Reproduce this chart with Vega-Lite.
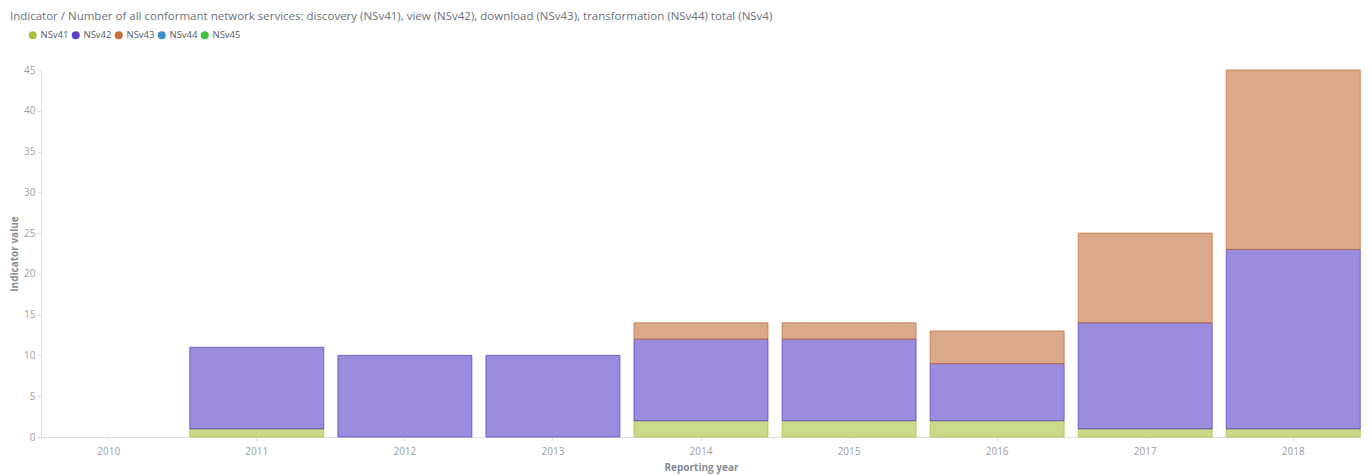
{
  "$schema": "https://vega.github.io/schema/vega-lite/v6.json",
  "width": 1320,
  "height": 367,
  "autosize": {"type": "none"},
  "padding": {"left": 41, "top": 70, "right": 9, "bottom": 38},
  "background": "white",
  "title": {
    "text": "Indicator / Number of all conformant network services: discovery (NSv41), view (NSv42), download (NSv43), transformation (NSv44) total (NSv4)",
    "anchor": "start",
    "frame": "group",
    "dx": -31,
    "dy": 14,
    "offset": 11,
    "font": "Open Sans",
    "fontSize": 11.5,
    "fontWeight": "normal",
    "color": "#6a717a",
    "baseline": "bottom"
  },
  "data": {
    "values": [
      {"year": "2011", "series": "NSv41", "value": 1},
      {"year": "2011", "series": "NSv42", "value": 10},
      {"year": "2012", "series": "NSv42", "value": 10},
      {"year": "2013", "series": "NSv42", "value": 10},
      {"year": "2014", "series": "NSv41", "value": 2},
      {"year": "2014", "series": "NSv42", "value": 10},
      {"year": "2014", "series": "NSv43", "value": 2},
      {"year": "2015", "series": "NSv41", "value": 2},
      {"year": "2015", "series": "NSv42", "value": 10},
      {"year": "2015", "series": "NSv43", "value": 2},
      {"year": "2016", "series": "NSv41", "value": 2},
      {"year": "2016", "series": "NSv42", "value": 7},
      {"year": "2016", "series": "NSv43", "value": 4},
      {"year": "2017", "series": "NSv41", "value": 1},
      {"year": "2017", "series": "NSv42", "value": 13},
      {"year": "2017", "series": "NSv43", "value": 11},
      {"year": "2018", "series": "NSv41", "value": 1},
      {"year": "2018", "series": "NSv42", "value": 22},
      {"year": "2018", "series": "NSv43", "value": 22}
    ]
  },
  "mark": {"type": "bar", "fillOpacity": 0.6, "strokeWidth": 1, "strokeOpacity": 0.75},
  "encoding": {
    "x": {
      "field": "year",
      "type": "ordinal",
      "scale": {
        "domain": ["2010", "2011", "2012", "2013", "2014", "2015", "2016", "2017", "2018"],
        "paddingInner": 0.095,
        "paddingOuter": 0.005
      },
      "axis": {
        "title": "Reporting year",
        "titleFont": "Open Sans",
        "titleFontSize": 10,
        "titleFontWeight": "bold",
        "titleColor": "#848e96",
        "titlePadding": 6,
        "labelAngle": 0,
        "labelFont": "Open Sans",
        "labelFontSize": 10,
        "labelColor": "#9aa0a6",
        "labelPadding": 5,
        "tickColor": "#e0e0e0",
        "tickSize": 4,
        "domainColor": "#e0e0e0",
        "grid": false
      }
    },
    "y": {
      "field": "value",
      "type": "quantitative",
      "stack": "zero",
      "scale": {"domain": [0, 45], "nice": false},
      "axis": {
        "title": "Indicator value",
        "values": [0, 5, 10, 15, 20, 25, 30, 35, 40, 45],
        "titleFont": "Open Sans",
        "titleFontSize": 10,
        "titleFontWeight": "bold",
        "titleColor": "#848e96",
        "titlePadding": 4,
        "labelFont": "Open Sans",
        "labelFontSize": 10,
        "labelColor": "#9aa0a6",
        "labelPadding": 2,
        "tickColor": "#e0e0e0",
        "tickSize": 4,
        "domainColor": "#e0e0e0",
        "grid": false
      }
    },
    "order": {"field": "series", "type": "nominal", "sort": "ascending"},
    "color": {
      "field": "series",
      "type": "nominal",
      "scale": {
        "domain": ["NSv41", "NSv42", "NSv43", "NSv44", "NSv45"],
        "range": ["#a8c03c", "#5a3fc6", "#c2703c", "#3f8fcb", "#3fbf3f"]
      },
      "legend": {
        "title": null,
        "orient": "none",
        "legendX": -13,
        "legendY": -40,
        "direction": "horizontal",
        "symbolType": "circle",
        "symbolSize": 64,
        "symbolOpacity": 1,
        "symbolStrokeWidth": 0,
        "labelFont": "Open Sans",
        "labelFontSize": 9.5,
        "labelColor": "#555b63",
        "labelOffset": 3,
        "columnPadding": 2
      }
    },
    "stroke": {
      "field": "series",
      "type": "nominal",
      "scale": {
        "domain": ["NSv41", "NSv42", "NSv43", "NSv44", "NSv45"],
        "range": ["#a8c03c", "#5a3fc6", "#c2703c", "#3f8fcb", "#3fbf3f"]
      },
      "legend": null
    }
  },
  "config": {"view": {"stroke": null}}
}
